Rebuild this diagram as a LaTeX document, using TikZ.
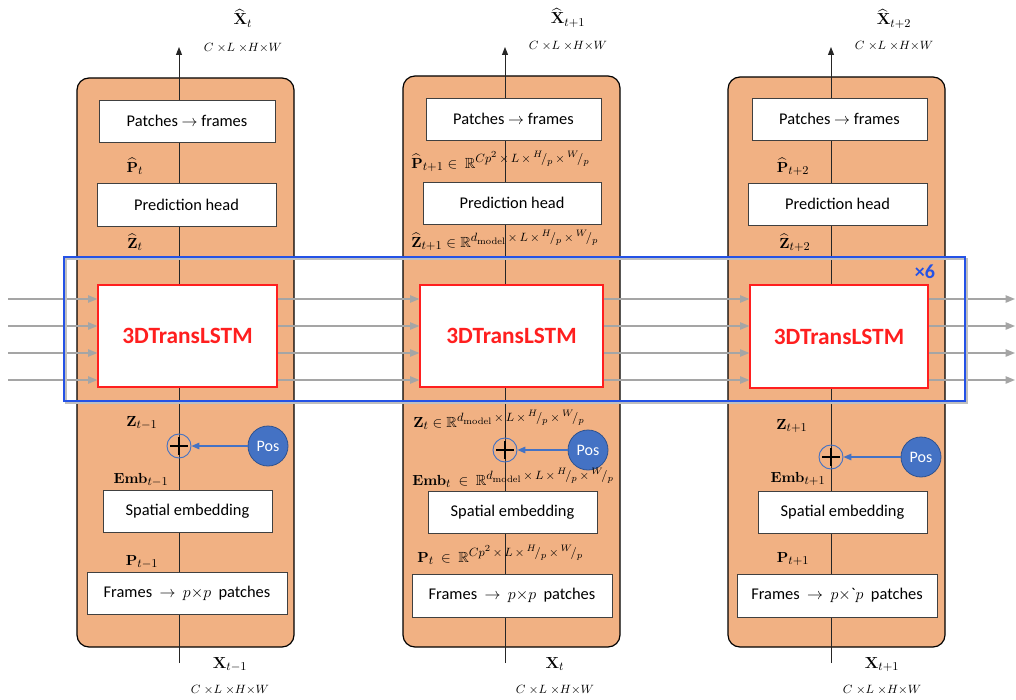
\documentclass[tikz,border=0pt]{standalone}
\usepackage{amsmath,amssymb}
\usepackage[no-math]{fontspec}
\setmainfont{Carlito}
\DeclareMathSizes{11}{11}{9}{7}
\usetikzlibrary{arrows.meta,fit}

\definecolor{panelorange}{HTML}{F1B183}
\definecolor{boxgray}{HTML}{404040}
\definecolor{lstmred}{HTML}{FF1F1F}
\definecolor{posblue}{HTML}{4472C4}
\definecolor{posedge}{HTML}{2F528F}
\definecolor{frameblue}{HTML}{2452E6}
\definecolor{linkgray}{HTML}{A5A5A5}

\newcommand{\skewfrac}[2]{{}^{#1}\!/_{#2}}
\newcommand{\stm}{\,{\times}\,}
\newcommand{\dimsCLHW}{$C\;{\times}L\;{\times}H{\times}W$}
% box node given by its corner coordinates (in px): name, style, x1, y1, x2, y2, text
\newcommand{\cornerbox}[7]{%
  \node[#2, minimum width={(#5-#3)*0.75pt}, minimum height={(#6-#4)*0.75pt}]
    (#1) at ({(#3+#5)/2},{(#4+#6)/2}) {#7};}

\begin{document}
\begin{tikzpicture}[x=0.75pt,y=-0.75pt,
  panel/.style={draw=black, line width=0.9pt, fill=panelorange, rounded corners=9pt, inner sep=0pt},
  stagebox/.style={draw=boxgray, line width=0.6pt, fill=white, inner sep=0pt, font=\fontsize{12.3}{14}\selectfont},
  lstmbox/.style={draw=lstmred, line width=0.9pt, fill=white, inner sep=0pt, text=lstmred, font=\fontsize{17.5}{20}\selectfont\bfseries},
  posnode/.style={circle, fill=posblue, draw=posedge, line width=0.6pt, minimum size=30pt, inner sep=0pt, text=white, font=\fontsize{12}{14}\selectfont},
  sumnode/.style={circle, draw=posblue, line width=0.7pt, minimum size=18pt, inner sep=0pt},
  flow/.style={draw=black!85, line width=0.75pt, -{Triangle[length=6pt,width=4.5pt]}},
  plus/.style={draw=black, line width=0.9pt},
  posarrow/.style={draw=posblue, line width=0.8pt, -{Triangle[length=6pt,width=5pt]}},
  lbl/.style={inner sep=0pt, anchor=base, font=\fontsize{11}{13}\selectfont},
  outlbl/.style={inner sep=0pt, anchor=base, font=\fontsize{12.5}{14}\selectfont},
  longlbl/.style={inner sep=0pt, anchor=base west, font=\fontsize{11}{13}\selectfont},
  dims/.style={inner sep=0pt, anchor=base, font=\fontsize{9.5}{11}\selectfont},
  link/.style={draw=linkgray, line width=1pt, -{Triangle[length=7pt,width=5.5pt]}},
  stack/.style={draw=frameblue, line width=1.9pt},
  stackshade/.style={draw=black!25, line width=1.6pt},
  reps/.style={inner sep=0pt, text=frameblue, font=\fontsize{15}{17}\selectfont\bfseries}
]
\useasboundingbox (0,0) rectangle (1016,699);

% ---------- panels ----------
\node[panel, fit={(77,78)(294,647)}] (pan1) {};
\node[panel, fit={(403,76)(620,647)}] (pan2) {};
\node[panel, fit={(728,77)(945,647)}] (pan3) {};

% ---------- main data paths ----------
\coordinate (bot1) at (179,663); \coordinate (top1) at (179,47);
\coordinate (bot2) at (505,663); \coordinate (top2) at (505,47);
\coordinate (bot3) at (831,663); \coordinate (top3) at (831,47);
\draw[flow] (bot1) -- (top1);
\draw[flow] (bot2) -- (top2);
\draw[flow] (bot3) -- (top3);

% ---------- column t-1 ----------
\cornerbox{pf1}{stagebox}{99}{100}{275}{142}{Patches $\rightarrow$ frames}
\cornerbox{ph1}{stagebox}{97}{183}{276}{226}{Prediction head}
\cornerbox{ls1}{lstmbox}{98}{285}{277}{387}{3DTransLSTM}
\cornerbox{se1}{stagebox}{103}{490}{272}{532}{Spatial embedding}
\cornerbox{fp1}{stagebox}{87}{572}{287}{614}{Frames\ \ $\rightarrow$\ \ $p{\times}p$\ \ patches}
\node[sumnode] (sum1) at (179,446) {};
\node[posnode] (pos1) at (268,446) {Pos};
\draw[plus] ([xshift=-6.5pt]sum1.center) -- ([xshift=6.5pt]sum1.center);
\draw[plus] ([yshift=-6.5pt]sum1.center) -- ([yshift=6.5pt]sum1.center);
\draw[posarrow] (pos1) -- (sum1);

\node[lbl] (lph1) at (135,172) {$\widehat{\mathbf{P}}_{t}$};
\node[lbl] (lzh1) at (135,248) {$\widehat{\mathbf{Z}}_{t}$};
\node[lbl] (lz1) at (142,426) {$\mathbf{Z}_{t-1}$};
\node[lbl] (le1) at (141,483) {$\mathbf{Emb}_{t-1}$};
\node[lbl] (lp1) at (142,565) {$\mathbf{P}_{t-1}$};
\node[outlbl] (lxo1) at (243,25) {$\widehat{\mathbf{X}}_{t}$};
\node[dims] (dxo1) at (243,51) {\dimsCLHW};
\node[outlbl] (lxi1) at (230,668) {$\mathbf{X}_{t-1}$};
\node[dims] (dxi1) at (230,693) {\dimsCLHW};

% ---------- column t ----------
\cornerbox{pf2}{stagebox}{426}{98}{601}{140}{Patches $\rightarrow$ frames}
\cornerbox{ph2}{stagebox}{423}{182}{601}{224}{Prediction head}
\cornerbox{ls2}{lstmbox}{420}{285}{603}{387}{3DTransLSTM}
\cornerbox{se2}{stagebox}{428}{491}{597}{533}{Spatial embedding}
\cornerbox{fp2}{stagebox}{412}{574}{612}{617}{Frames\ \ $\rightarrow$\ \ $p{\times}p$\ \ patches}
\node[sumnode] (sum2) at (505,450) {};
\node[posnode] (pos2) at (588,450) {Pos};
\draw[plus] ([xshift=-6.5pt]sum2.center) -- ([xshift=6.5pt]sum2.center);
\draw[plus] ([yshift=-6.5pt]sum2.center) -- ([yshift=6.5pt]sum2.center);
\draw[posarrow] (pos2) -- (sum2);

\node[longlbl] (lph2) at (411,168) {$\widehat{\mathbf{P}}_{t+1}\in\ \mathbb{R}^{Cp^{2}\stm L\stm \skewfrac{H}{p}\stm \skewfrac{W}{p}}$};
\node[longlbl] (lzh2) at (411,247) {$\widehat{\mathbf{Z}}_{t+1}\in\mathbb{R}^{d_{\mathrm{model}}\stm L\stm \skewfrac{H}{p}\stm \skewfrac{W}{p}}$};
\node[longlbl] (lz2) at (413,427) {$\mathbf{Z}_{t}\in\mathbb{R}^{d_{\mathrm{model}}\stm L\stm \skewfrac{H}{p}\stm \skewfrac{W}{p}}$};
\node[longlbl] (le2) at (412,485) {$\mathbf{Emb}_{t}\ \in\ \mathbb{R}^{d_{\mathrm{model}}\stm L\stm \skewfrac{H}{p}\stm \skewfrac{W}{p}}$};
\node[longlbl] (lp2) at (417,562) {$\mathbf{P}_{t}\ \in\ \mathbb{R}^{Cp^{2}\stm L\stm \skewfrac{H}{p}\stm \skewfrac{W}{p}}$};
\node[outlbl] (lxo2) at (568,24) {$\widehat{\mathbf{X}}_{t+1}$};
\node[dims] (dxo2) at (568,50) {\dimsCLHW};
\node[outlbl] (lxi2) at (555,668) {$\mathbf{X}_{t}$};
\node[dims] (dxi2) at (555,693) {\dimsCLHW};

% ---------- column t+1 ----------
\cornerbox{pf3}{stagebox}{752}{98}{927}{140}{Patches $\rightarrow$ frames}
\cornerbox{ph3}{stagebox}{748}{183}{927}{225}{Prediction head}
\cornerbox{ls3}{lstmbox}{750}{285}{928}{388}{3DTransLSTM}
\cornerbox{se3}{stagebox}{758}{491}{927}{533}{Spatial embedding}
\cornerbox{fp3}{stagebox}{737}{574}{937}{617}{Frames\ \ $\rightarrow$\ \ $p{\times}$\textasciigrave$p$\ \ patches}
\node[sumnode] (sum3) at (831,457) {};
\node[posnode] (pos3) at (921,457) {Pos};
\draw[plus] ([xshift=-6.5pt]sum3.center) -- ([xshift=6.5pt]sum3.center);
\draw[plus] ([yshift=-6.5pt]sum3.center) -- ([yshift=6.5pt]sum3.center);
\draw[posarrow] (pos3) -- (sum3);

\node[lbl] (lph3) at (793,172) {$\widehat{\mathbf{P}}_{t+2}$};
\node[lbl] (lzh3) at (795,248) {$\widehat{\mathbf{Z}}_{t+2}$};
\node[lbl] (lz3) at (792,429) {$\mathbf{Z}_{t+1}$};
\node[lbl] (le3) at (798,482) {$\mathbf{Emb}_{t+1}$};
\node[lbl] (lp3) at (793,562) {$\mathbf{P}_{t+1}$};
\node[outlbl] (lxo3) at (894,25) {$\widehat{\mathbf{X}}_{t+2}$};
\node[dims] (dxo3) at (894,50) {\dimsCLHW};
\node[outlbl] (lxi3) at (882,668) {$\mathbf{X}_{t+1}$};
\node[dims] (dxi3) at (882,693) {\dimsCLHW};

% ---------- recurrent state links ----------
\foreach \k/\yy in {1/299,2/326,3/353,4/380}{
  \coordinate (in\k) at (8,\yy);
  \coordinate (out\k) at (1015,\yy);
  \draw[link] (in\k) -- (in\k -| ls1.west);
  \draw[link] (in\k -| ls1.east) -- (in\k -| ls2.west);
  \draw[link] (in\k -| ls2.east) -- (in\k -| ls3.west);
  \draw[link] (in\k -| ls3.east) -- (out\k);
}

% ---------- stacked layers frame ----------
\draw[stackshade] (66,259) rectangle (967,403);
\node[stack, fit={(64,257)(965,401)}, inner sep=0pt] (stk) {};
\node[reps, anchor=center] (rep) at (925,272) {×6};
\end{tikzpicture}
\end{document}
